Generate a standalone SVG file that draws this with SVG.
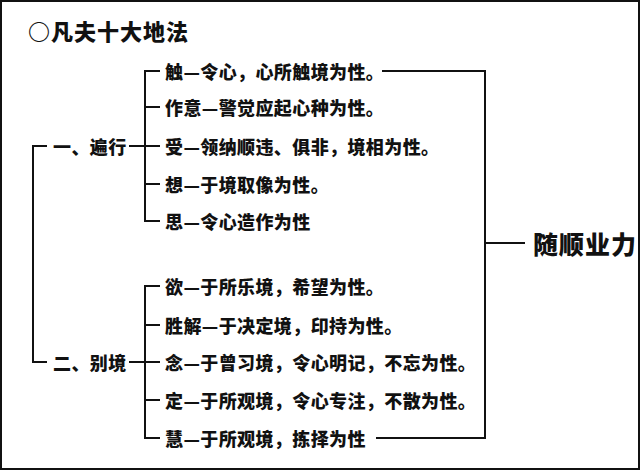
<svg xmlns="http://www.w3.org/2000/svg" width="640" height="470" viewBox="0 0 640 470">
<style>
text{font-family:"Noto Sans CJK SC","Noto Sans",sans-serif;font-weight:900;fill:#111;dominant-baseline:central}
.i{font-size:18px;letter-spacing:0.4px}
.c{stroke:#111;stroke-width:2;fill:none}
</style>
<rect x="1" y="1" width="638" height="468" fill="#fff" stroke="#111" stroke-width="2"/>
<text x="28" y="30" style="font-size:22px;letter-spacing:1px">○凡夫十大地法</text>
<g id="connectors" class="c">
<path d="M160 71H145V221H160M145 107H160M145 184H160M129 146H160"/>
<path d="M160 286H145V438H160M145 325H160M145 400H160M129 362H160"/>
<path d="M47 146H33V362H47"/>
<path d="M382 71H485V438H376M485 243H525"/>
</g>
<g id="g1"><text x="53" y="146" class="i">一、遍行</text></g>
<g id="g2"><text x="53" y="362" class="i">二、别境</text></g>
<g id="n1"><text x="165" y="71" class="i">触—令心，心所触境为性。</text></g>
<g id="n2"><text x="165" y="107" class="i">作意—警觉应起心种为性。</text></g>
<g id="n3"><text x="165" y="146" class="i">受—领纳顺违、俱非，境相为性。</text></g>
<g id="n4"><text x="165" y="184" class="i">想—于境取像为性。</text></g>
<g id="n5"><text x="165" y="221" class="i">思—令心造作为性</text></g>
<g id="n6"><text x="165" y="286" class="i">欲—于所乐境，希望为性。</text></g>
<g id="n7"><text x="165" y="325" class="i">胜解—于决定境，印持为性。</text></g>
<g id="n8"><text x="165" y="362" class="i">念—于曾习境，令心明记，不忘为性。</text></g>
<g id="n9"><text x="165" y="400" class="i">定—于所观境，令心专注，不散为性。</text></g>
<g id="n10"><text x="165" y="438" class="i">慧—于所观境，拣择为性</text></g>
<g id="r"><text x="533" y="243" style="font-size:25px;letter-spacing:1px">随顺业力</text></g>
</svg>
